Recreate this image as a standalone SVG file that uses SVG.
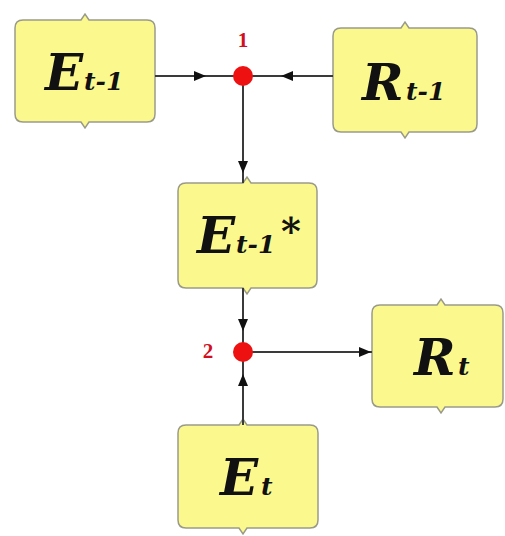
<svg xmlns="http://www.w3.org/2000/svg" width="505" height="536" viewBox="0 0 505 536">
<style>
.box{fill:#fbf98e;stroke:#9a9a8a;stroke-width:1.5}
.lbl{font-family:"DejaVu Serif","Liberation Serif",serif;font-weight:bold;font-style:italic;fill:#111}
.big{font-size:50px}
.sub{font-size:25px}
.num{font-family:"Liberation Serif",serif;font-weight:bold;font-size:21px;fill:#d01020;text-anchor:middle}
.ln{stroke:#3a3a3a;stroke-width:2;fill:none}
.ah{fill:#111}
.dot{fill:#ee1111}
</style>
<rect width="505" height="536" fill="#ffffff"/>
<g id="node-Et1">
<path class="box" d="M23,20 H81 L85,14 L89,20 H147 Q155,20 155,28 V114 Q155,122 147,122 H89 L85,128 L81,122 H23 Q15,122 15,114 V28 Q15,20 23,20 Z"/>
<text class="lbl" y="90"><tspan class="big" x="45">E</tspan><tspan class="sub" x="84">t-1</tspan></text>
</g>
<g id="node-Rt1">
<path class="box" d="M341,28 H401 L405,22 L409,28 H469 Q477,28 477,36 V124 Q477,132 469,132 H409 L405,138 L401,132 H341 Q333,132 333,124 V36 Q333,28 341,28 Z"/>
<text class="lbl" y="100"><tspan class="big" x="362">R</tspan><tspan class="sub" x="406">t-1</tspan></text>
</g>
<g id="node-Et1star">
<path class="box" d="M186,183 H243 L247,177 L251,183 H309 Q317,183 317,191 V280 Q317,288 309,288 H251 L247,294 L243,288 H186 Q178,288 178,280 V191 Q178,183 186,183 Z"/>
<text class="lbl" y="253"><tspan class="big" x="197">E</tspan><tspan class="sub" x="236">t-1</tspan><tspan x="281" y="244" style="font-size:38px;font-style:normal">*</tspan></text>
</g>
<g id="node-Rt">
<path class="box" d="M380,305 H437 L441,299 L445,305 H495 Q503,305 503,313 V399 Q503,407 495,407 H445 L441,413 L437,407 H380 Q372,407 372,399 V313 Q372,305 380,305 Z"/>
<text class="lbl" y="375"><tspan class="big" x="414">R</tspan><tspan class="sub" x="458">t</tspan></text>
</g>
<g id="node-Et">
<path class="box" d="M186,425 H239 L243,419 L247,425 H310 Q318,425 318,433 V520 Q318,528 310,528 H247 L243,534 L239,528 H186 Q178,528 178,520 V433 Q178,425 186,425 Z"/>
<text class="lbl" y="495"><tspan class="big" x="220">E</tspan><tspan class="sub" x="261">t</tspan></text>
</g>
<g id="connectors">
<line class="ln" x1="155" y1="76" x2="243" y2="76"/>
<path class="ah" d="M206,76 L194,71 L194,81 Z"/>
<line class="ln" x1="333" y1="76" x2="243" y2="76"/>
<path class="ah" d="M281,76 L293,71 L293,81 Z"/>
<line class="ln" x1="243" y1="76" x2="243" y2="183"/>
<path class="ah" d="M243,173 L238,161 L248,161 Z"/>
<line class="ln" x1="243" y1="288" x2="243" y2="352"/>
<path class="ah" d="M243,331 L238,319 L248,319 Z"/>
<line class="ln" x1="243" y1="352" x2="372" y2="352"/>
<path class="ah" d="M371,352 L359,347 L359,357 Z"/>
<line class="ln" x1="243" y1="425" x2="243" y2="352"/>
<path class="ah" d="M243,374 L238,386 L248,386 Z"/>
</g>
<g id="junction-1">
<circle class="dot" cx="243" cy="76" r="10"/>
<text class="num" x="243" y="47">1</text>
</g>
<g id="junction-2">
<circle class="dot" cx="243" cy="352" r="10"/>
<text class="num" x="208" y="358">2</text>
</g>
</svg>
